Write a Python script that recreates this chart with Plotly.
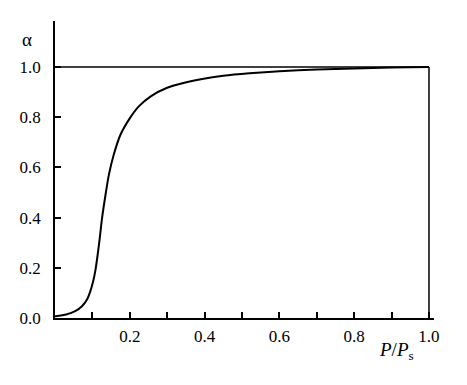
import plotly.graph_objects as go

x_vals = [0, 0.03, 0.054, 0.072, 0.086, 0.094, 0.102, 0.108, 0.113, 0.119, 0.126, 0.135,
          0.144, 0.157, 0.175, 0.202, 0.224, 0.257, 0.3, 0.346, 0.39, 0.45, 0.52, 0.6,
          0.7, 0.8, 0.9, 1.0]
alpha = [0.007, 0.014, 0.027, 0.047, 0.075, 0.104, 0.146, 0.19, 0.24, 0.31, 0.40, 0.49,
         0.57, 0.65, 0.73, 0.80, 0.843, 0.884, 0.917, 0.937, 0.951, 0.965, 0.975, 0.983,
         0.99, 0.994, 0.998, 1.0]

x_ticks = [0.2, 0.4, 0.6, 0.8, 1.0]
x_labels = ["0.2", "0.4", "0.6", "0.8", "1.0"]
y_ticks = [0.0, 0.2, 0.4, 0.6, 0.8, 1.0]
y_labels = ["0.0", "0.2", "0.4", "0.6", "0.8", "1.0"]

FONT = "Liberation Serif, Times New Roman, Times, serif"

fig = go.Figure()
fig.add_trace(go.Scatter(x=x_vals, y=alpha, mode="lines",
                         line=dict(color="black", width=2, shape="spline", smoothing=0.6),
                         showlegend=False, hoverinfo="skip"))
# frame lines at alpha = 1 and P/Ps = 1
fig.add_trace(go.Scatter(x=[0, 1], y=[1, 1], mode="lines",
                         line=dict(color="black", width=1.5), showlegend=False, hoverinfo="skip"))
fig.add_trace(go.Scatter(x=[1, 1], y=[0, 1], mode="lines",
                         line=dict(color="black", width=1.5), showlegend=False, hoverinfo="skip"))

fig.update_layout(
    width=467, height=385,
    margin=dict(l=47, r=41, t=13, b=75, autoexpand=False),
    paper_bgcolor="white", plot_bgcolor="white",
    font=dict(family=FONT, size=17, color="black"),
    xaxis=dict(range=[0, 1.0134], showgrid=False, zeroline=False, automargin=False,
               showline=True, linecolor="black", linewidth=1.5,
               tickmode="array", tickvals=x_ticks, ticktext=x_labels,
               ticks="inside", ticklen=6, tickwidth=1.5, tickcolor="black",
               ticklabelstandoff=2,
               minor=dict(ticks="inside", tick0=0, dtick=0.1, ticklen=6,
                          tickwidth=1.5, tickcolor="black", showgrid=False)),
    yaxis=dict(range=[0, 1.183], showgrid=False, zeroline=False, automargin=False,
               showline=True, linecolor="black", linewidth=1.5,
               tickmode="array", tickvals=y_ticks, ticktext=y_labels,
               ticks="inside", ticklen=6, tickwidth=1.5, tickcolor="black",
               ticklabelstandoff=9),
    annotations=[
        dict(text="α", xref="paper", yref="paper", x=-0.074, y=0.939,
             xanchor="center", yanchor="middle",
             showarrow=False, font=dict(family=FONT, size=19, color="black")),
        dict(text="<i>P</i>/<i>P</i><sub>s</sub>", xref="paper", yref="paper",
             x=0.9, y=-0.111, xanchor="center", yanchor="middle",
             showarrow=False, font=dict(family=FONT, size=19, color="black")),
    ],
)

fig.write_html("out.html")
